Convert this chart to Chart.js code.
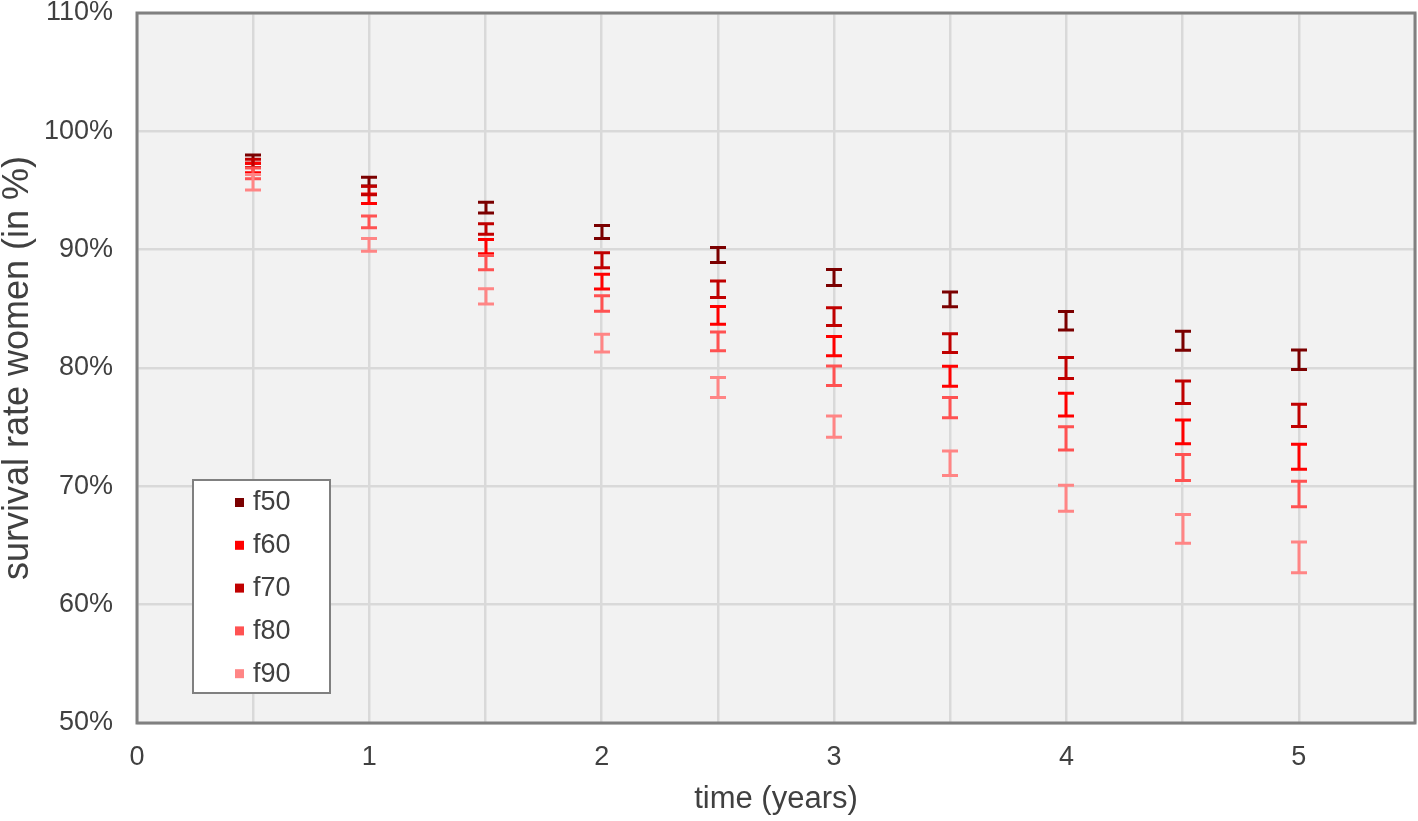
<!DOCTYPE html>
<html>
<head>
<meta charset="utf-8">
<script src="https://cdn.jsdelivr.net/npm/chart.js"></script>
<style>
  body { margin: 0; background: #ffffff; }
  #survivalChart { display: block; }
</style>
</head>
<body>
<canvas id="survivalChart" width="1418" height="821"></canvas>
<script>
// time points (years)
const times = [0.5, 1, 1.5, 2, 2.5, 3, 3.5, 4, 4.5, 5];

// survival rate (%) and half width of the error bar
const f50Mean = [97.65, 95.75, 93.55, 91.5, 89.55, 87.65, 85.8, 84.0, 82.3, 80.7];
const f50Err  = [0.35, 0.37, 0.45, 0.55, 0.63, 0.68, 0.62, 0.78, 0.8, 0.82];
const f60Mean = [96.9, 94.3, 90.25, 87.3, 84.45, 81.85, 79.3, 76.9, 74.6, 72.5];
const f60Err  = [0.4, 0.4, 0.6, 0.63, 0.75, 0.82, 0.85, 0.96, 1.0, 1.05];
const f70Mean = [97.3, 95.0, 91.75, 89.1, 86.65, 84.35, 82.1, 80.0, 77.95, 76.0];
const f70Err  = [0.35, 0.35, 0.45, 0.63, 0.7, 0.75, 0.8, 0.88, 0.95, 0.94];
const f80Mean = [96.45, 92.35, 88.9, 85.45, 82.25, 79.35, 76.65, 74.05, 71.6, 69.35];
const f80Err  = [0.45, 0.5, 0.6, 0.65, 0.8, 0.82, 0.85, 0.99, 1.1, 1.08];
const f90Mean = [95.7, 90.4, 86.05, 82.1, 78.35, 75.05, 71.95, 69.0, 66.4, 64.0];
const f90Err  = [0.65, 0.54, 0.65, 0.75, 0.85, 0.9, 1.03, 1.1, 1.22, 1.3];

const seriesNames = ["f50", "f60", "f70", "f80", "f90"];
const seriesColors = ["#7b0000", "#ff0000", "#c00000", "#ff5252", "#ff8585"];

const yTicks = [50, 60, 70, 80, 90, 100, 110];
const xTickLabels = [0, 1, 2, 3, 4, 5];

const textColor = "#404040";
const fontFamily = "'Liberation Sans', Arial, sans-serif";

const means = [f50Mean, f60Mean, f70Mean, f80Mean, f90Mean];
const errs = [f50Err, f60Err, f70Err, f80Err, f90Err];

const datasets = seriesNames.map((name, s) => ({
    label: name,
    data: times.map((t, i) => ({ x: t, y: means[s][i] })),
    errors: errs[s],
    borderColor: seriesColors[s],
    backgroundColor: seriesColors[s],
    pointRadius: 0,
    showLine: false
}));

// plot background + frame
const frame = {
    id: "frame",
    beforeDraw(chart) {
        const a = chart.chartArea;
        const ctx = chart.ctx;
        ctx.save();
        ctx.fillStyle = "#f2f2f2";
        ctx.fillRect(a.left, a.top, a.right - a.left, a.bottom - a.top);
        ctx.restore();
    },
    afterDraw(chart) {
        const a = chart.chartArea;
        const ctx = chart.ctx;
        ctx.save();
        ctx.strokeStyle = "#808080";
        ctx.lineWidth = 3;
        ctx.strokeRect(a.left, a.top, a.right - a.left, a.bottom - a.top);
        ctx.restore();
    }
};

// I-beam error bars drawn with the chart's scales
const errorBars = {
    id: "errorBars",
    afterDatasetsDraw(chart) {
        const ctx = chart.ctx;
        const xs = chart.scales.x, ys = chart.scales.y;
        const cap = 8;
        ctx.save();
        ctx.lineWidth = 3;
        chart.data.datasets.forEach(ds => {
            ctx.strokeStyle = ds.borderColor;
            ds.data.forEach((p, i) => {
                const x = Math.round(xs.getPixelForValue(p.x));
                const yHi = ys.getPixelForValue(p.y + ds.errors[i]);
                const yLo = ys.getPixelForValue(p.y - ds.errors[i]);
                ctx.beginPath();
                ctx.moveTo(x, yHi); ctx.lineTo(x, yLo);
                ctx.moveTo(x - cap, yHi); ctx.lineTo(x + cap, yHi);
                ctx.moveTo(x - cap, yLo); ctx.lineTo(x + cap, yLo);
                ctx.stroke();
            });
        });
        ctx.restore();
    }
};

// legend box inside the plot, lower left
const boxLegend = {
    id: "boxLegend",
    afterDraw(chart) {
        const a = chart.chartArea;
        const ctx = chart.ctx;
        const left = a.left + 56, top = a.bottom - 243, w = 137, h = 213;
        ctx.save();
        ctx.fillStyle = "#ffffff";
        ctx.fillRect(left, top, w, h);
        ctx.strokeStyle = "#808080";
        ctx.lineWidth = 2;
        ctx.strokeRect(left, top, w, h);
        ctx.font = "27px " + fontFamily;
        ctx.textBaseline = "middle";
        chart.data.datasets.forEach((ds, i) => {
            const y = top + 22 + i * 42.8;
            ctx.fillStyle = ds.backgroundColor;
            ctx.fillRect(left + 42, y - 4, 9, 9);
            ctx.fillStyle = textColor;
            ctx.fillText(ds.label, left + 60, y + 1);
        });
        ctx.restore();
    }
};

function noScalePadding(scale) {
    scale.paddingTop = 0;
    scale.paddingBottom = 0;
    scale.paddingLeft = 0;
    scale.paddingRight = 0;
}

const ctx = document.getElementById("survivalChart").getContext("2d");
new Chart(ctx, {
    type: "scatter",
    data: { datasets: datasets },
    plugins: [frame, errorBars, boxLegend],
    options: {
        responsive: false,
        animation: false,
        devicePixelRatio: 1,
        layout: { padding: { left: 0, top: 13, right: 3, bottom: 0 } },
        plugins: {
            legend: { display: false },
            tooltip: { enabled: false }
        },
        scales: {
            x: {
                type: "linear",
                min: 0,
                max: 5.5,
                afterFit(scale) { scale.height = 98; noScalePadding(scale); },
                border: { display: false },
                grid: { color: "#d9d9d9", lineWidth: 2.5, drawTicks: false },
                ticks: {
                    stepSize: 0.5,
                    autoSkip: false,
                    maxRotation: 0,
                    padding: 18,
                    color: textColor,
                    font: { family: fontFamily, size: 27 },
                    callback: v => xTickLabels.includes(v) ? String(v) : ""
                },
                title: {
                    display: true,
                    text: "time (years)",
                    color: textColor,
                    font: { family: fontFamily, size: 31, lineHeight: 1 },
                    padding: { top: 0, bottom: 6 }
                }
            },
            y: {
                min: 50,
                max: 110,
                afterFit(scale) { scale.width = 137; noScalePadding(scale); },
                afterBuildTicks(scale) { scale.ticks = yTicks.map(v => ({ value: v })); },
                border: { display: false },
                grid: { color: "#d9d9d9", lineWidth: 2.5, drawTicks: false },
                ticks: {
                    padding: 24,
                    color: textColor,
                    font: { family: fontFamily, size: 27, lineHeight: 1 },
                    callback: v => v + "%"
                },
                title: {
                    display: true,
                    text: "survival rate women (in %)",
                    color: textColor,
                    font: { family: fontFamily, size: 36, lineHeight: 1 },
                    padding: { top: 0, bottom: 0 }
                }
            }
        }
    }
});
</script>
</body>
</html>
